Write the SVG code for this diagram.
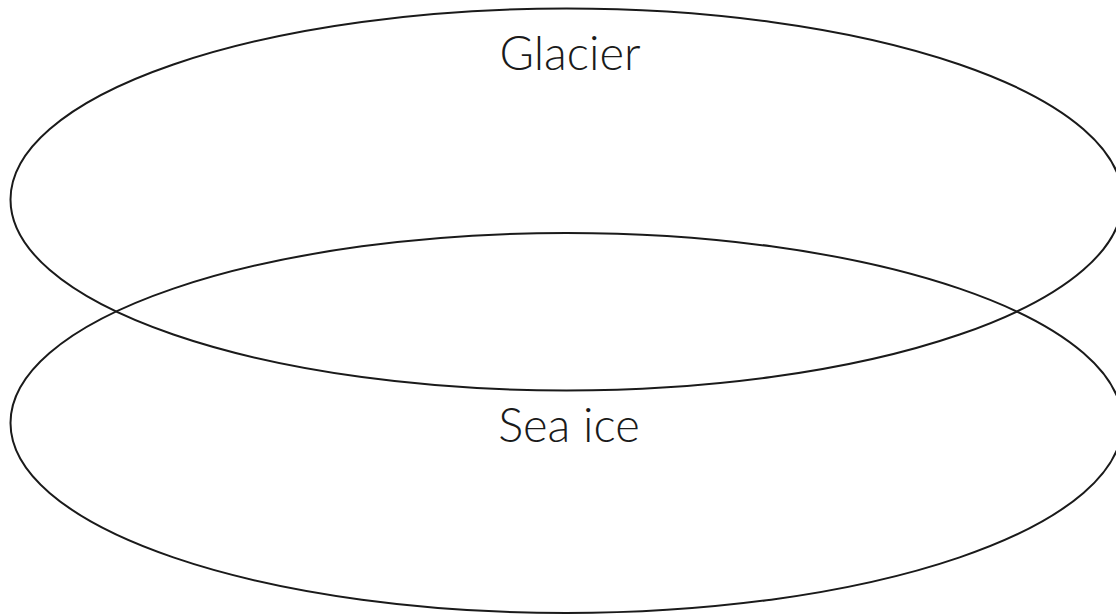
<svg xmlns="http://www.w3.org/2000/svg" width="1116" height="614" viewBox="0 0 1116 614">
<style>
.set{fill:none;stroke:#1a1a1a;stroke-width:2}
.lbl{font-family:Lato,"Noto Sans",sans-serif;font-weight:300;font-size:47px;fill:#1a1a1a;text-anchor:middle}
</style>
<rect width="1116" height="614" fill="#ffffff"/>
<g id="glacier">
<ellipse class="set" cx="566.5" cy="199.5" rx="556" ry="191"/>
<text class="lbl" x="570" y="70">Glacier</text>
</g>
<g id="sea-ice">
<ellipse class="set" cx="566.5" cy="423" rx="556" ry="190"/>
<text class="lbl" x="569" y="442">Sea ice</text>
</g>
<g id="connectors"></g>
</svg>
